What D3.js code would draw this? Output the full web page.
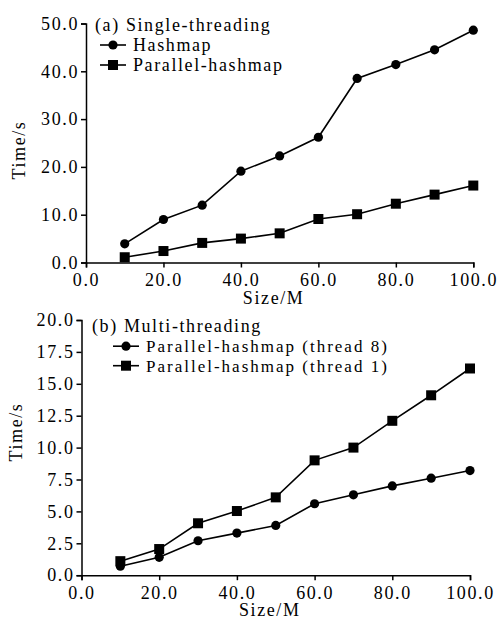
<!DOCTYPE html>
<html>
<head>
<meta charset="utf-8">
<script src="https://cdn.jsdelivr.net/npm/d3@7"></script>
<style>
  body { margin: 0; background: #fff; }
  svg text { font-family: "Liberation Serif", "Times New Roman", serif; font-size: 18px; letter-spacing: 1.6px; fill: #000; }
  .domain, .tick line { stroke: #000; stroke-width: 1.5px; }
</style>
</head>
<body>
<div id="wrapper"></div>
<script>
// data
const sizes = [10, 20, 30, 40, 50, 60, 70, 80, 90, 100]
const hashmapSingle = [3.9, 9.0, 12.0, 19.1, 22.3, 26.2, 38.5, 41.4, 44.5, 48.6]
const parallelSingle = [1.1, 2.4, 4.1, 5.0, 6.1, 9.1, 10.1, 12.3, 14.2, 16.1]
const parallelThread8 = [0.7, 1.4, 2.7, 3.3, 3.9, 5.6, 6.3, 7.0, 7.6, 8.2]
const parallelThread1 = [1.1, 2.05, 4.07, 5.03, 6.1, 9.0, 10.0, 12.1, 14.1, 16.2]

const xTicks = [0, 20, 40, 60, 80, 100]
const yTicksTop = [0, 10, 20, 30, 40, 50]
const yTicksBottom = [0, 2.5, 5, 7.5, 10, 12.5, 15, 17.5, 20]

const wrapper = d3.select("#wrapper")
  .append("svg")
    .attr("width", 501)
    .attr("height", 627)

function drawPanel(opts) {
  const xScale = d3.scaleLinear().domain([0, 100]).range([opts.left, opts.right])
  const yScale = d3.scaleLinear().domain([0, opts.yMax]).range([opts.bottom, opts.top])

  const xAxis = wrapper.append("g")
    .attr("transform", `translate(0,${opts.bottom})`)
    .call(d3.axisBottom(xScale).tickValues(xTicks).tickFormat(d3.format(".1f")).tickSizeOuter(0).tickSize(5).tickPadding(6))

  const yAxis = wrapper.append("g")
    .attr("transform", `translate(${opts.left},0)`)
    .call(d3.axisLeft(yScale).tickValues(opts.yTicks).tickFormat(d3.format(".1f")).tickSizeOuter(0).tickSize(5).tickPadding(2))
  wrapper.selectAll("g").attr("font-family", null).attr("font-size", null)

  // axis titles
  wrapper.append("text")
    .attr("x", (opts.left + opts.right) / 2 - 6)
    .attr("y", opts.bottom + 41)
    .attr("text-anchor", "middle")
    .text("Size/M")

  wrapper.append("text")
    .attr("transform", `translate(${opts.yTitleX},${opts.yTitleY}) rotate(-90)`)
    .attr("text-anchor", "middle")
    .text("Time/s")

  const line = d3.line()
    .x((d, i) => xScale(sizes[i]))
    .y(d => yScale(d))

  opts.series.forEach(s => {
    wrapper.append("path")
      .datum(s.values)
      .attr("d", line)
      .attr("fill", "none")
      .attr("stroke", "#000")
      .attr("stroke-width", 1.6)

    const marks = wrapper.append("g")
    if (s.shape === "circle") {
      marks.selectAll("circle").data(s.values).join("circle")
        .attr("cx", (d, i) => xScale(sizes[i]))
        .attr("cy", d => yScale(d))
        .attr("r", 4.6)
        .attr("fill", "#000")
    } else {
      marks.selectAll("rect").data(s.values).join("rect")
        .attr("x", (d, i) => xScale(sizes[i]) - 5)
        .attr("y", d => yScale(d) - 5)
        .attr("width", 10)
        .attr("height", 10)
        .attr("fill", "#000")
    }
  })

  // legend
  const legend = wrapper.append("g")
  legend.append("text")
    .attr("x", opts.legendX)
    .attr("y", opts.legendY)
    .attr("dy", "0.35em")
    .text(opts.title)

  opts.series.forEach((s, i) => {
    const y = opts.legendY + opts.legendFirst + i * opts.legendStep
    const lx = opts.legendX + opts.markOffset
    legend.append("line")
      .attr("x1", lx).attr("x2", lx + 26)
      .attr("y1", y).attr("y2", y)
      .attr("stroke", "#000").attr("stroke-width", 1.6)
    if (s.shape === "circle") {
      legend.append("circle").attr("cx", lx + 13).attr("cy", y).attr("r", 4.6).attr("fill", "#000")
    } else {
      legend.append("rect").attr("x", lx + 8).attr("y", y - 5).attr("width", 10).attr("height", 10).attr("fill", "#000")
    }
    legend.append("text")
      .attr("x", lx + 33)
      .attr("y", y)
      .attr("dy", "0.35em")
      .style("font-size", opts.legendFont)
      .style("letter-spacing", opts.legendSpacing)
      .text(s.name)
  })
}

drawPanel({
  left: 86, right: 473.3, top: 23.5, bottom: 262.5, yMax: 50,
  yTicks: yTicksTop,
  yTitleX: 25, yTitleY: 150,
  title: "(a) Single-threading",
  legendX: 95, legendY: 25, legendFirst: 20, legendStep: 20, markOffset: 5,
  legendFont: "18px", legendSpacing: "1.6px",
  series: [
    { name: "Hashmap", values: hashmapSingle, shape: "circle" },
    { name: "Parallel-hashmap", values: parallelSingle, shape: "square" }
  ]
})

drawPanel({
  left: 81.5, right: 470, top: 320, bottom: 575.2, yMax: 20,
  yTicks: yTicksBottom,
  yTitleX: 22, yTitleY: 432,
  title: "(b) Multi-threading",
  legendX: 92, legendY: 325.7, legendFirst: 20.5, legendStep: 19.5, markOffset: 21,
  legendFont: "17px", legendSpacing: "2px",
  series: [
    { name: "Parallel-hashmap (thread 8)", values: parallelThread8, shape: "circle" },
    { name: "Parallel-hashmap (thread 1)", values: parallelThread1, shape: "square" }
  ]
})
</script>
</body>
</html>
